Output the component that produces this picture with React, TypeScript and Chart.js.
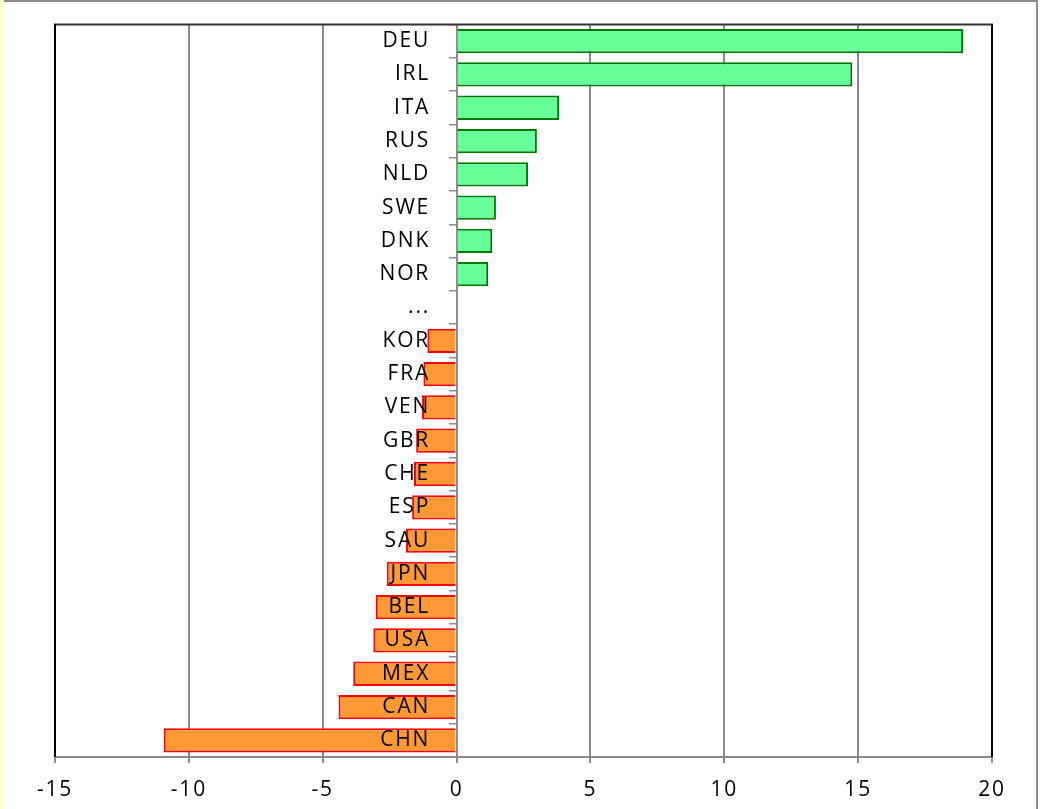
import React, { useEffect, useRef } from "react";
import { Chart, registerables } from "chart.js";

Chart.register(...registerables);

const categories = ["DEU", "IRL", "ITA", "RUS", "NLD", "SWE", "DNK", "NOR", "...", "KOR", "FRA", "VEN", "GBR", "CHE", "ESP", "SAU", "JPN", "BEL", "USA", "MEX", "CAN", "CHN"];
const values: (number | null)[] = [18.92, 14.78, 3.83, 3.0, 2.67, 1.47, 1.33, 1.18, null, -1.09, -1.24, -1.29, -1.51, -1.59, -1.66, -1.89, -2.61, -3.02, -3.11, -3.86, -4.41, -10.94];
const xMin = -15;
const xMax = 20;
const xStep = 5;

const GREEN_FILL = "#66FF99";
const GREEN_LINE = "#007A00";
const ORANGE_FILL = "#FF9933";
const ORANGE_LINE = "#FF0000";
const GRID = "#8C8C8C";
const FONT = "'Open Sans', 'DejaVu Sans', sans-serif";
const SPACING = "1.8px";

const W = 1040;
const H = 809;

const framePlugin = {
  id: "frame",
  beforeDraw(chart: any) {
    const ctx = chart.ctx;
    ctx.save();
    ctx.fillStyle = "#FFFFFF";
    ctx.fillRect(0, 0, W, H);
    ctx.fillStyle = "#FFFFC8";
    ctx.fillRect(0, 0, 4, H);
    ctx.fillStyle = "#8C8C8C";
    ctx.fillRect(4, 0, 1034, 2);
    ctx.fillRect(1036, 0, 2, H);
    ctx.restore();
    (ctx as any).letterSpacing = SPACING;
  },
  afterDatasetsDraw(chart: any) {
    const ctx = chart.ctx;
    const xs = chart.scales.x;
    const ys = chart.scales.y;
    const zero = xs.getPixelForValue(0);
    ctx.save();
    (ctx as any).letterSpacing = SPACING;
    ctx.font = `500 21px ${FONT}`;
    ctx.fillStyle = "#000000";
    ctx.textAlign = "right";
    ctx.textBaseline = "middle";
    categories.forEach((c, i) => {
      const y = ys.getPixelForValue(i);
      ctx.fillText(c, zero - 26.5, y);
    });
    ctx.restore();
  },
  afterDraw(chart: any) {
    const ctx = chart.ctx;
    const a = chart.chartArea;
    ctx.save();
    ctx.lineWidth = 2;
    ctx.strokeStyle = "#333333";
    ctx.beginPath();
    ctx.moveTo(a.left - 1, a.top);
    ctx.lineTo(a.right + 1, a.top);
    ctx.stroke();
    ctx.strokeStyle = "#000000";
    ctx.beginPath();
    ctx.moveTo(a.left, a.top);
    ctx.lineTo(a.left, a.bottom);
    ctx.moveTo(a.right, a.top);
    ctx.lineTo(a.right, a.bottom);
    ctx.stroke();
    ctx.restore();
  },
};

export default function App() {
  const ref = useRef<HTMLCanvasElement | null>(null);

  useEffect(() => {
    if (!ref.current) return;
    const chart = new Chart(ref.current, {
      type: "bar",
      data: {
        labels: categories,
        datasets: [
          {
            data: values,
            backgroundColor: (ctx: any) => ((ctx.raw ?? 0) >= 0 ? GREEN_FILL : ORANGE_FILL),
            borderColor: (ctx: any) => ((ctx.raw ?? 0) >= 0 ? GREEN_LINE : ORANGE_LINE),
            borderWidth: 2,
            barPercentage: 0.73,
            categoryPercentage: 1,
          },
        ],
      },
      options: {
        indexAxis: "y",
        animation: false,
        responsive: false,
        devicePixelRatio: 1,
        layout: { padding: { left: 55, right: 48, top: 24.5, bottom: 0 } },
        plugins: {
          legend: { display: false },
          tooltip: { enabled: false },
        },
        scales: {
          x: {
            type: "linear",
            position: "bottom",
            min: xMin,
            max: xMax,
            afterFit: (s: any) => {
              s.height = 52;
            },
            ticks: {
              stepSize: xStep,
              color: "#000000",
              font: { family: FONT, size: 21, weight: "500" },
              padding: 14,
              maxRotation: 0,
            },
            grid: {
              color: GRID,
              lineWidth: 2,
              tickLength: 6,
              drawTicks: true,
            },
            border: { display: true, color: GRID, width: 2 },
          },
          y: {
            type: "category",
            position: { x: 0 } as any,
            z: 1,
            ticks: { display: false },
            grid: {
              offset: true,
              drawOnChartArea: false,
              drawTicks: true,
              tickLength: 7,
              color: GRID,
              lineWidth: 1.5,
            },
            border: { display: true, color: GRID, width: 2 },
          },
        },
      } as any,
      plugins: [framePlugin],
    });
    return () => chart.destroy();
  }, []);

  return (
    <div style={{ position: "absolute", left: 0, top: 0, width: W, height: H, background: "#fff" }}>
      <canvas ref={ref} width={W} height={H} style={{ display: "block", width: W, height: H }} />
    </div>
  );
}
